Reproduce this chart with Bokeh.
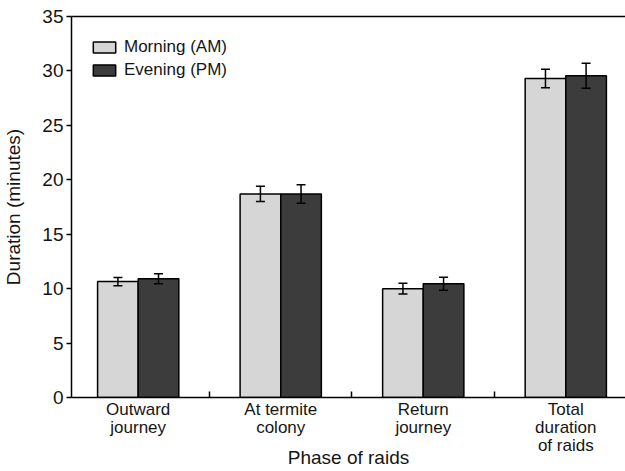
from bokeh.plotting import figure
from bokeh.models import (ColumnDataSource, FixedTicker, Whisker, TeeHead,
                          LinearAxis, Range1d, Legend, LegendItem)
from bokeh.embed import file_html
from bokeh.resources import INLINE

# Raid durations (minutes), mean with error bars
phases = ["Outward\njourney", "At termite\ncolony", "Return\njourney", "Total\nduration\nof raids"]
am_mean = [10.65, 18.7, 10.0, 29.3]
pm_mean = [10.9, 18.7, 10.45, 29.55]
am_err = [0.38, 0.7, 0.5, 0.85]
pm_err = [0.46, 0.85, 0.6, 1.15]
y_ticks = [0, 5, 10, 15, 20, 25, 30, 35]

FONT = "Liberation Sans, Arial, sans-serif"
TEXT = "#151515"
LIGHT = "#d6d6d6"
DARK = "#3c3c3c"

centers = [i + 0.5 for i in range(len(phases))]
bar_w = 0.285
off = bar_w / 2

am_src = ColumnDataSource(dict(
    x=[c - off for c in centers], top=am_mean,
    lo=[m - e for m, e in zip(am_mean, am_err)],
    hi=[m + e for m, e in zip(am_mean, am_err)]))
pm_src = ColumnDataSource(dict(
    x=[c + off for c in centers], top=pm_mean,
    lo=[m - e for m, e in zip(pm_mean, pm_err)],
    hi=[m + e for m, e in zip(pm_mean, pm_err)]))

p = figure(width=625, height=471, output_backend="svg", toolbar_location=None,
           x_range=Range1d(0.032, 3.919), y_range=Range1d(0, 35),
           min_border_left=71, min_border_top=16, min_border_bottom=74,
           min_border_right=0)
p.outline_line_color = None
p.grid.visible = False
p.background_fill_color = "white"
p.border_fill_color = "white"

am_r = p.vbar(x="x", top="top", width=bar_w, source=am_src,
              fill_color=LIGHT, line_color="black", line_width=1.5)
pm_r = p.vbar(x="x", top="top", width=bar_w, source=pm_src,
              fill_color=DARK, line_color="black", line_width=1.5)

for src in (am_src, pm_src):
    w = Whisker(base="x", lower="lo", upper="hi", source=src,
                line_color="black", line_width=1.5, level="overlay",
                upper_head=TeeHead(size=9, line_color="black", line_width=1.5),
                lower_head=TeeHead(size=9, line_color="black", line_width=1.5))
    p.add_layout(w)

# x axis: phase labels under each group, small inward ticks between groups
xa = p.xaxis[0]
xa.ticker = FixedTicker(ticks=centers, minor_ticks=[1, 2, 3])
xa.major_label_overrides = {c: lab for c, lab in zip(centers, phases)}
xa.major_tick_line_color = None
xa.major_tick_in = 0
xa.major_tick_out = 0
xa.minor_tick_in = 6
xa.minor_tick_out = 0
xa.minor_tick_line_color = "black"
xa.minor_tick_line_width = 1.5
xa.axis_line_width = 1.5
xa.axis_line_color = "black"
xa.major_label_text_font = FONT
xa.major_label_text_font_size = "17px"
xa.major_label_text_color = TEXT
xa.major_label_text_line_height = 0.95
xa.major_label_standoff = 2
# the title tucks up beside the three-line label
xa.axis_label = "Phase of raids"
xa.axis_label_text_font = FONT
xa.axis_label_text_font_size = "19px"
xa.axis_label_text_font_style = "normal"
xa.axis_label_text_color = TEXT
xa.axis_label_standoff = -11

ya = p.yaxis[0]
ya.ticker = FixedTicker(ticks=y_ticks)
ya.minor_tick_line_color = None
ya.major_tick_in = 0
ya.major_tick_out = 5
ya.major_tick_line_width = 1.5
ya.axis_line_width = 1.5
ya.axis_line_color = "black"
ya.major_label_text_font = FONT
ya.major_label_text_font_size = "19px"
ya.major_label_text_color = TEXT
ya.major_label_standoff = 3
ya.axis_label = "Duration (minutes)"
ya.axis_label_text_font = FONT
ya.axis_label_text_font_size = "19px"
ya.axis_label_text_font_style = "normal"
ya.axis_label_text_color = TEXT
ya.axis_label_standoff = 15

# top frame line
top = LinearAxis(ticker=FixedTicker(ticks=[]), major_label_text_font_size="0px",
                 axis_line_color="black", axis_line_width=1.5,
                 major_tick_line_color=None, minor_tick_line_color=None)
p.add_layout(top, "above")

legend = Legend(items=[LegendItem(label="Morning (AM)", renderers=[am_r]),
                       LegendItem(label="Evening (PM)", renderers=[pm_r])],
                location=(19, 317), margin=0, padding=0, spacing=3,
                glyph_width=28, glyph_height=14, label_standoff=6,
                label_text_font=FONT, label_text_font_size="17px",
                label_text_color=TEXT, border_line_color=None,
                background_fill_alpha=0)
p.add_layout(legend)

open("out.html", "w").write(file_html(p, INLINE))
